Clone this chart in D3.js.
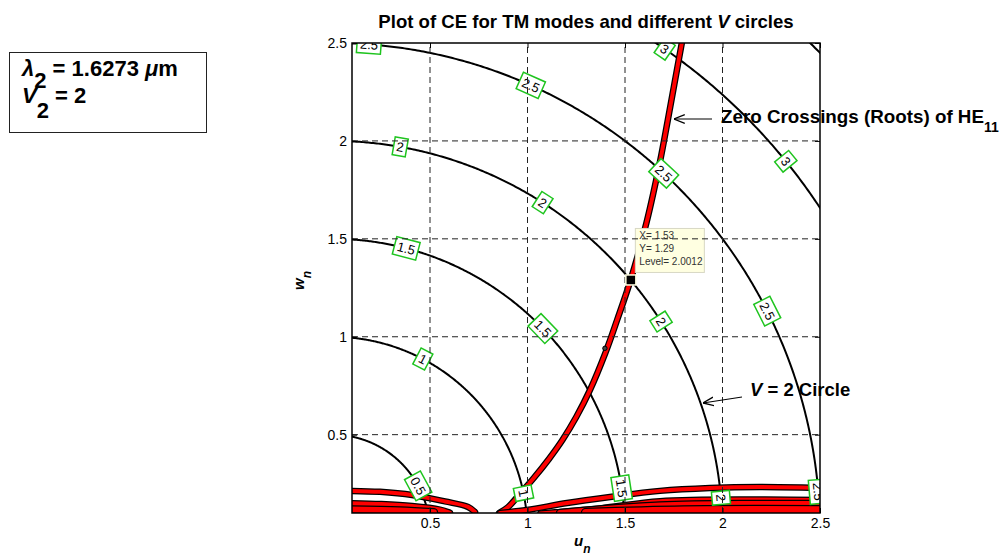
<!DOCTYPE html>
<html>
<head>
<meta charset="utf-8">
<script src="https://cdn.jsdelivr.net/npm/d3@7"></script>
<style>
  body { margin: 0; background: #fff; }
  text { font-family: "Liberation Sans", Arial, sans-serif; }
</style>
</head>
<body>
<div id="chart"></div>
<script>
// contour levels (V circles) and where their labels sit (angle along circle, deg)
const levels = [0.5, 1, 1.5, 2, 2.5, 3, 3.5]
const labelLevels = [2.5, 2.5, 2, 2, 1.5, 1.5, 1, 0.5, 1, 1.5, 2, 2.5, 3, 2.5, 3, 2, 2.5]
const labelAngles = [85.7, 66, 80, 57.4, 75.4, 44, 62.4, 28.5, 11.6, 8.7, 5.1, 4.8, 55.4, 47.2, 39.2, 32.6, 26.9]

const xTicks = [0.5, 1, 1.5, 2, 2.5]
const yTicks = [0.5, 1, 1.5, 2, 2.5]

// zero crossings of the characteristic equation (u, w)
const he11Roots = [[0.854, 0.1], [0.9, 0.13], [0.96, 0.196], [1.03, 0.276], [1.11, 0.376],
    [1.18, 0.474], [1.25, 0.59], [1.32, 0.727], [1.4, 0.919], [1.46, 1.087],
    [1.53, 1.294], [1.61, 1.582], [1.68, 1.897], [1.72, 2.109], [1.795, 2.52]]
const leftBandUpper = [[0.08, 0.213], [0.244, 0.208], [0.408, 0.192], [0.577, 0.159], [0.695, 0.131], [0.731, 0.105]]
const leftBandLower = [[0.08, 0.148], [0.25, 0.143], [0.408, 0.133], [0.55, 0.115], [0.6, 0.1]]
const leftBandBottom = [[0.08, 0.118], [0.346, 0.113], [0.52, 0.104]]
const rightBandUpper = [[0.859, 0.1], [0.997, 0.115], [1.203, 0.151], [1.423, 0.182], [1.679, 0.213],
    [1.936, 0.228], [2.192, 0.233], [2.52, 0.228]]
const rightBandMiddle = [[1.064, 0.1], [1.372, 0.126], [1.679, 0.163], [2.192, 0.171], [2.52, 0.168]]
const rightBandLower = [[1.167, 0.1], [1.679, 0.138], [2.192, 0.146], [2.52, 0.146]]
const rightBandBottom = [[1.3, 0.1], [1.8, 0.113], [2.52, 0.114]]

// data tip
const tipX = 1.53, tipY = 1.29, tipLevel = 2.0012
const strayPoint = [1.397, 0.941]

const svg = d3.select('#chart').append('svg')
    .attr('width', 1001)
    .attr('height', 557)

const x = d3.scaleLinear().domain([0.1, 2.5]).range([352, 820])
const y = d3.scaleLinear().domain([0.1, 2.5]).range([513, 43])

svg.append('clipPath').attr('id', 'plotClip')
    .append('rect')
    .attr('x', x(0.1)).attr('y', y(2.5))
    .attr('width', x(2.5) - x(0.1)).attr('height', y(0.1) - y(2.5))

const plot = svg.append('g').attr('clip-path', 'url(#plotClip)')
const line = d3.line().x(d => x(d[0])).y(d => y(d[1]))
const smooth = d3.line().x(d => x(d[0])).y(d => y(d[1])).curve(d3.curveCatmullRom)
const circlePts = r => d3.range(0, 90.25, 0.25).map(a => [r * Math.cos(a * Math.PI / 180), r * Math.sin(a * Math.PI / 180)])

// V circles
plot.selectAll('path.level')
    .data(levels)
    .enter().append('path')
    .attr('class', 'level')
    .attr('d', d => line(circlePts(d)))
    .attr('fill', 'none')
    .attr('stroke', '#000')
    .attr('stroke-width', 2)

// red zero-crossing bands: black edge then red core
const bands = [
    { pts: he11Roots, w: 4 },
    { pts: leftBandUpper, w: 4 },
    { pts: leftBandLower, w: 5 },
    { pts: leftBandBottom, w: 6 },
    { pts: rightBandUpper, w: 4 },
    { pts: rightBandMiddle, w: 3 },
    { pts: rightBandLower, w: 6 },
    { pts: rightBandBottom, w: 8 }
]
bands.forEach(b => {
    plot.append('path')
        .attr('d', smooth(b.pts))
        .attr('fill', 'none')
        .attr('stroke', '#000')
        .attr('stroke-width', b.w + 2.5)
        .attr('stroke-linecap', 'round')
    plot.append('path')
        .attr('d', smooth(b.pts))
        .attr('fill', 'none')
        .attr('stroke', '#f00')
        .attr('stroke-width', b.w)
        .attr('stroke-linecap', 'round')
})

plot.append('circle')
    .attr('cx', x(strayPoint[0])).attr('cy', y(strayPoint[1]))
    .attr('r', 2.2)
    .attr('fill', '#444').attr('stroke', '#000')

// data tip box
const tip = svg.append('g').attr('transform', `translate(${x(tipX) + 4.5}, ${y(tipY) - 51.5})`)
tip.append('rect')
    .attr('width', 69).attr('height', 44)
    .attr('fill', '#ffffe1')
    .attr('stroke', '#d8d8c4')
const tipLines = ['X= ' + tipX, 'Y= ' + tipY, 'Level= ' + tipLevel]
tip.selectAll('text').data(tipLines).enter().append('text')
    .attr('x', 4).attr('y', (d, i) => 11 + i * 13)
    .attr('font-size', 10)
    .attr('fill', '#333')
    .text(d => d)

// grid
const grid = svg.append('g')
grid.selectAll('line.gx').data(xTicks.slice(0, -1)).enter().append('line')
    .attr('x1', d => x(d)).attr('x2', d => x(d))
    .attr('y1', y(0.1)).attr('y2', y(2.5))
grid.selectAll('line.gy').data(yTicks.slice(0, -1)).enter().append('line')
    .attr('x1', x(0.1)).attr('x2', x(2.5))
    .attr('y1', d => y(d)).attr('y2', d => y(d))
grid.selectAll('line')
    .attr('stroke', '#222')
    .attr('stroke-width', 1)
    .attr('stroke-dasharray', '6,4')

// contour labels
const labels = plot.selectAll('g.clabel')
    .data(labelLevels.map((lv, i) => ({ lv, a: labelAngles[i] })))
    .enter().append('g')
    .attr('class', 'clabel')
    .attr('transform', d => {
        const r = d.a * Math.PI / 180
        return `translate(${x(d.lv * Math.cos(r))}, ${y(d.lv * Math.sin(r))}) rotate(${90 - d.a})`
    })
labels.append('rect')
labels.append('text')
    .attr('text-anchor', 'middle')
    .attr('dy', '0.36em')
    .attr('font-size', 13)
    .attr('fill', '#000')
    .text(d => String(d.lv))
labels.each(function () {
    const g = d3.select(this)
    const tw = g.select('text').node().getComputedTextLength()
    g.select('rect')
        .attr('x', -tw / 2 - 3).attr('y', -9)
        .attr('width', tw + 6).attr('height', 18)
        .attr('fill', '#fff')
        .attr('stroke', '#1fc41f')
        .attr('stroke-width', 1.5)
})

// data tip marker
svg.append('rect')
    .attr('x', x(tipX) - 5).attr('y', y(tipY) - 5)
    .attr('width', 10).attr('height', 10)
    .attr('fill', '#000')
    .attr('stroke', '#ffffe1')
    .attr('stroke-width', 1.5)

// axes
const fmt = d => String(d)
const styleAxis = g => {
    g.select('.domain').remove()
    g.selectAll('line').attr('stroke', '#000')
    g.selectAll('text').attr('font-size', 14).attr('fill', '#000')
        .attr('font-family', '"Liberation Sans", Arial, sans-serif')
}
svg.append('g').attr('transform', `translate(0, ${y(0.1)})`)
    .call(d3.axisBottom(x).tickValues(xTicks).tickSize(-5).tickPadding(5).tickFormat(fmt))
    .call(styleAxis)
svg.append('g').attr('transform', `translate(0, ${y(2.5)})`)
    .call(d3.axisTop(x).tickValues(xTicks).tickSize(-5).tickFormat(''))
    .call(styleAxis)
svg.append('g').attr('transform', `translate(${x(0.1)}, 0)`)
    .call(d3.axisLeft(y).tickValues(yTicks).tickSize(-5).tickPadding(5).tickFormat(fmt))
    .call(styleAxis)
svg.append('g').attr('transform', `translate(${x(2.5)}, 0)`)
    .call(d3.axisRight(y).tickValues(yTicks).tickSize(-5).tickFormat(''))
    .call(styleAxis)

svg.append('rect')
    .attr('x', x(0.1)).attr('y', y(2.5))
    .attr('width', x(2.5) - x(0.1)).attr('height', y(0.1) - y(2.5))
    .attr('fill', 'none')
    .attr('stroke', '#000')
    .attr('stroke-width', 1.5)

// title
const title = svg.append('text')
    .attr('x', (x(0.1) + x(2.5)) / 2).attr('y', 28)
    .attr('text-anchor', 'middle')
    .attr('font-size', 18.6).attr('font-weight', 'bold')
title.append('tspan').text('Plot of CE for TM modes and different ')
title.append('tspan').attr('font-style', 'italic').text('V')
title.append('tspan').text(' circles')

// axis labels
const xl = svg.append('text')
    .attr('x', 574).attr('y', 546)
    .attr('font-size', 15).attr('font-weight', 'bold').attr('font-style', 'italic')
xl.append('tspan').text('u')
xl.append('tspan').attr('dy', 7).attr('font-size', 12).text('n')

const yl = svg.append('text')
    .attr('transform', 'translate(304, 290) rotate(-90)')
    .attr('font-size', 15).attr('font-weight', 'bold').attr('font-style', 'italic')
yl.append('tspan').text('w')
yl.append('tspan').attr('dy', 7).attr('font-size', 12).text('n')

// annotations
svg.append('defs').append('marker')
    .attr('id', 'arrow')
    .attr('viewBox', '0 0 10 10')
    .attr('refX', 10).attr('refY', 5)
    .attr('markerWidth', 9).attr('markerHeight', 9)
    .attr('orient', 'auto')
    .append('path')
    .attr('d', 'M0,1 L10,5 L0,9')
    .attr('fill', 'none').attr('stroke', '#000').attr('stroke-width', 1.2)

svg.append('line')
    .attr('x1', 712).attr('y1', 119).attr('x2', 674).attr('y2', 119)
    .attr('stroke', '#000').attr('stroke-width', 1.2)
    .attr('marker-end', 'url(#arrow)')
svg.append('line')
    .attr('x1', 742).attr('y1', 397).attr('x2', 703).attr('y2', 403)
    .attr('stroke', '#000').attr('stroke-width', 1.2)
    .attr('marker-end', 'url(#arrow)')

const zc = svg.append('text')
    .attr('x', 721).attr('y', 123)
    .attr('font-size', 18.8).attr('font-weight', 'bold')
zc.append('tspan').text('Zero Crossings (Roots) of HE')
zc.append('tspan').attr('dy', 9).attr('font-size', 14).text('11')

const vc = svg.append('text')
    .attr('x', 750).attr('y', 396)
    .attr('font-size', 18.5).attr('font-weight', 'bold')
vc.append('tspan').attr('font-style', 'italic').text('V')
vc.append('tspan').text(' = 2 Circle')

// parameter box
svg.append('rect')
    .attr('x', 9.5).attr('y', 52.5)
    .attr('width', 197).attr('height', 80)
    .attr('fill', '#fff')
    .attr('stroke', '#222')
    .attr('stroke-width', 1)

const l1 = svg.append('text')
    .attr('x', 22).attr('y', 76)
    .attr('font-size', 22).attr('font-weight', 'bold')
l1.append('tspan').attr('font-style', 'italic').text('λ')
l1.append('tspan').attr('dy', 12).text('2')
l1.append('tspan').attr('dy', -12).text(' = 1.6273 ')
l1.append('tspan').attr('font-style', 'italic').text('μ')
l1.append('tspan').text('m')

const l2 = svg.append('text')
    .attr('x', 22).attr('y', 103)
    .attr('font-size', 22).attr('font-weight', 'bold')
l2.append('tspan').attr('font-style', 'italic').text('V')
l2.append('tspan').attr('dy', 15).text('2')
l2.append('tspan').attr('dy', -15).text(' = 2')
</script>
</body>
</html>
